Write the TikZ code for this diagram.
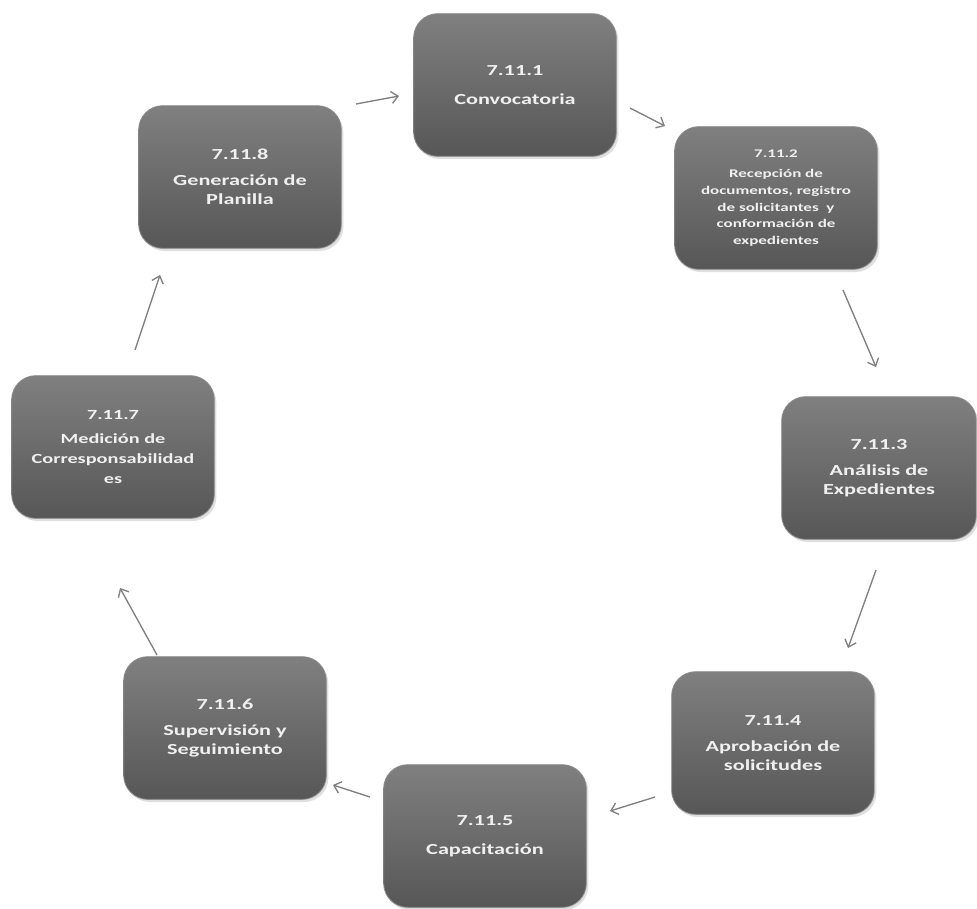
\documentclass[tikz,border=0pt]{standalone}
\usepackage{fontspec}
\newfontfamily\boxfont{Carlito}[FakeStretch=1.45]
\usetikzlibrary{arrows.meta,shadows}
\begin{document}
\begin{tikzpicture}[x=0.75pt,y=-0.75pt,
  box/.style={draw=black!45, line width=0.6pt, rounded corners=18pt,
    top color=black!50, bottom color=black!66,
    minimum width=152pt, minimum height=107pt, inner sep=2pt,
    align=center, text=white!94!black,
    font=\boxfont\bfseries\fontsize{11.5}{14.5}\selectfont,
    drop shadow={opacity=0.25, shadow xshift=1.5pt, shadow yshift=-2pt}},
  smallbox/.style={box, font=\boxfont\bfseries\fontsize{8.8}{12.5}\selectfont},
  arr/.style={draw=black!50, line width=1pt, -{Straight Barb[length=5pt,width=9pt]}}]
\useasboundingbox[fill=white] (0,0) rectangle (977,908);

\node[box] (n1) at (515,85) {7.11.1\\[7pt]Convocatoria};
\node[smallbox] (n2) at (776,198) {7.11.2\\[3pt]Recepción de\\documentos, registro\\de solicitantes\ \ y\\conformación de\\expedientes};
\node[box, minimum width=146pt] (n3) at (879,468) {7.11.3\\[5pt]Análisis de\\Expedientes};
\node[box] (n4) at (773,743) {7.11.4\\[5pt]Aprobación de\\solicitudes};
\node[box] (n5) at (485,836) {7.11.5\\[7pt]Capacitación};
\node[box] (n6) at (225,728) {7.11.6\\[5pt]Supervisión y\\Seguimiento};
\node[box, font=\boxfont\bfseries\fontsize{10.5}{15}\selectfont] (n7) at (113,447) {7.11.7\\[3pt]Medición de\\Corresponsabilidad\\es};
\node[box] (n8) at (240,177) {7.11.8\\[5pt]Generación de\\Planilla};

\coordinate (a81s) at (356,104); \coordinate (a81e) at (399,96);
\coordinate (a12s) at (630,108); \coordinate (a12e) at (665,126);
\coordinate (a23s) at (843,290); \coordinate (a23e) at (876,367);
\coordinate (a34s) at (876,570); \coordinate (a34e) at (848,648);
\coordinate (a45s) at (655,797); \coordinate (a45e) at (610,811);
\coordinate (a56s) at (370,797); \coordinate (a56e) at (333,785);
\coordinate (a67s) at (157,655); \coordinate (a67e) at (120,588);
\coordinate (a78s) at (135,350); \coordinate (a78e) at (160,275);

\draw[arr] (a81s) -- (a81e);
\draw[arr] (a12s) -- (a12e);
\draw[arr] (a23s) -- (a23e);
\draw[arr] (a34s) -- (a34e);
\draw[arr] (a45s) -- (a45e);
\draw[arr] (a56s) -- (a56e);
\draw[arr] (a67s) -- (a67e);
\draw[arr] (a78s) -- (a78e);
\end{tikzpicture}
\end{document}
